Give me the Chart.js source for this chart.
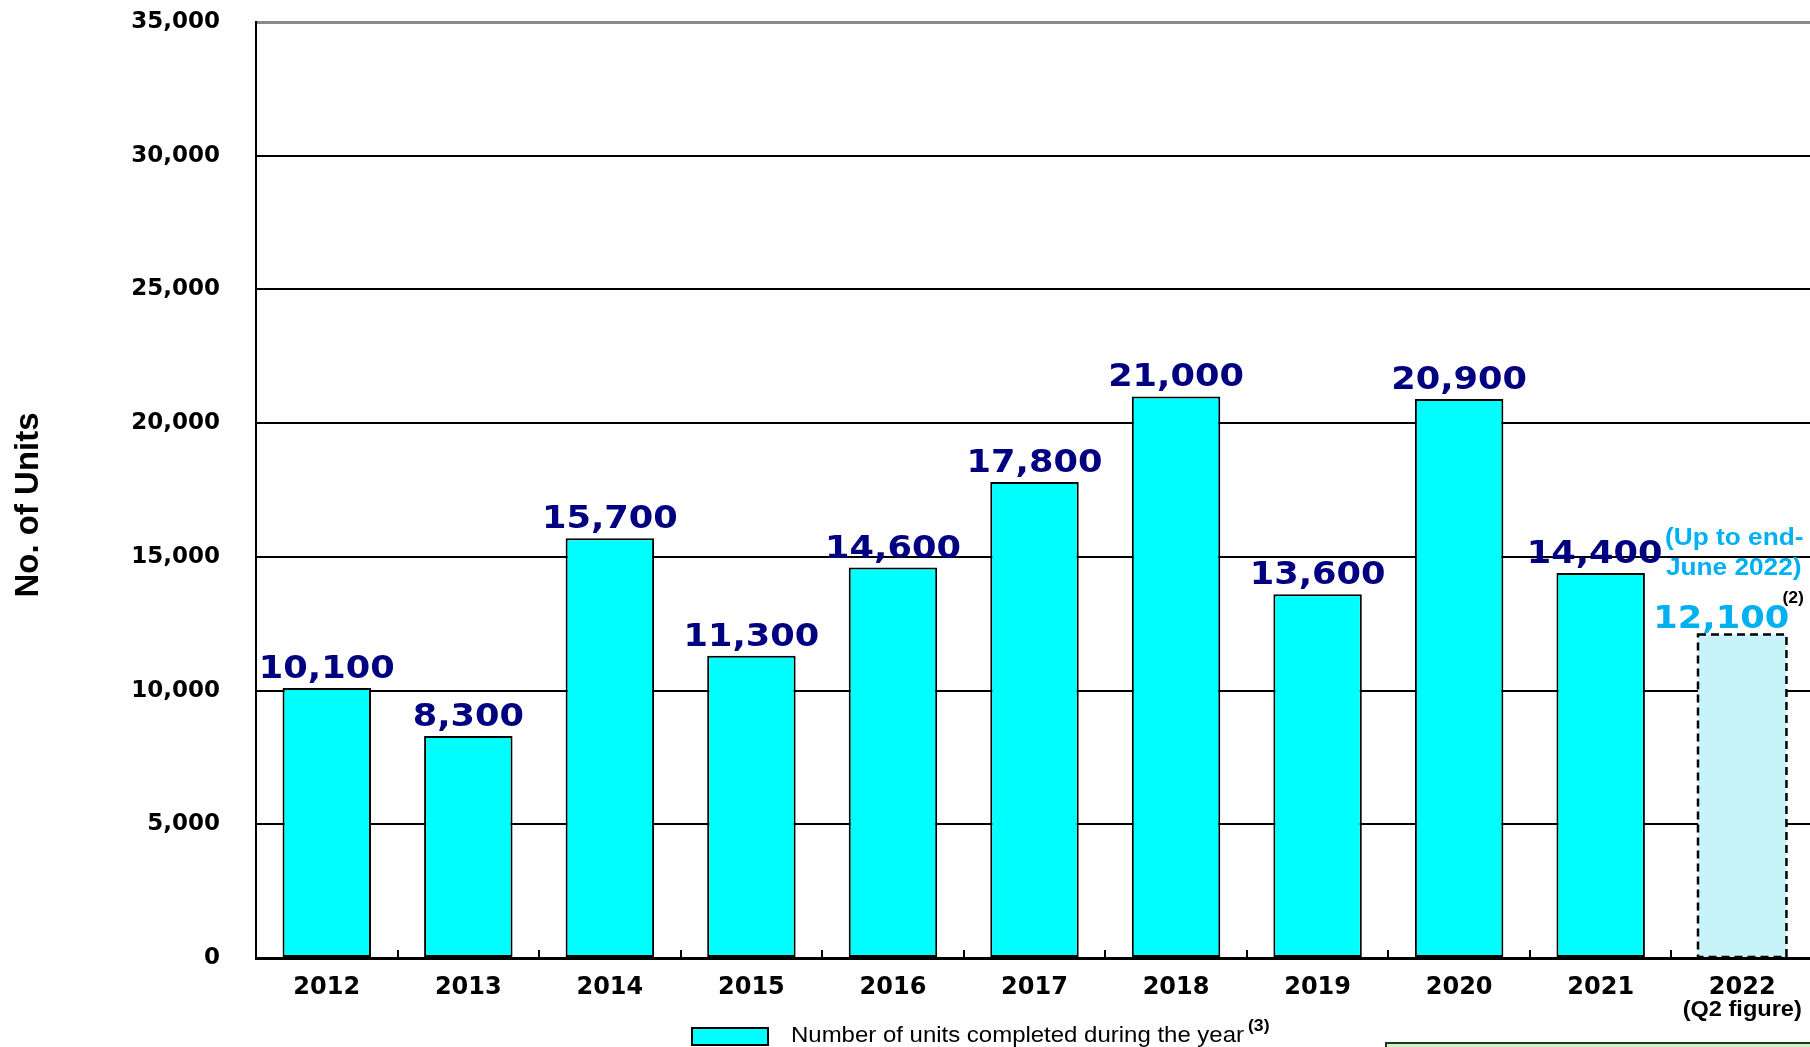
<!DOCTYPE html>
<html>
<head>
<meta charset="utf-8">
<script src="https://cdn.jsdelivr.net/npm/chart.js@4.4.1/dist/chart.umd.min.js"></script>
<style>
  html, body { margin: 0; padding: 0; background: #fff; overflow: hidden; }
  #wrap { width: 1830px; height: 1047px; }
</style>
</head>
<body>
<div id="wrap"><canvas id="unitsChart"></canvas></div>
<script>
// data
const years = ['2012', '2013', '2014', '2015', '2016', '2017', '2018', '2019', '2020', '2021', '2022'];
const units = [10100, 8300, 15700, 11300, 14600, 17800, 21000, 13600, 20900, 14400, 12100];
const yMax = 35000;
const yStep = 5000;
const yTitle = 'No. of Units';
const seriesLabel = 'Number of units completed during the year';
const seriesNote = '(3)';
const partialNote = ['(Up to end-', 'June 2022)'];
const partialSup = '(2)';
const partialSubLabel = '(Q2 figure)';

const CYAN = '#00ffff';
const PALE_CYAN = '#c8f3f8';
const NAVY = '#000080';
const SKY = '#00b0f0';

function stretchText(ctx, text, x, y, sx, align) {
    ctx.save();
    ctx.translate(x, y);
    ctx.scale(sx, 1);
    ctx.textAlign = align;
    ctx.fillText(text, 0, 0);
    ctx.restore();
}

// labels, dashed partial bar, inner ticks, legend
const overlayPlugin = {
    id: 'overlay',
    afterDatasetsDraw(chart) {
        const ctx = chart.ctx;
        const area = chart.chartArea;
        const xs = chart.scales.x;
        const meta = chart.getDatasetMeta(0);
        const last = units.length - 1;

        ctx.save();
        // small upward ticks between categories
        ctx.strokeStyle = '#000';
        ctx.lineWidth = 2;
        const half = (xs.getPixelForValue(1) - xs.getPixelForValue(0)) / 2;
        for (let i = 1; i < years.length; i++) {
            const px = Math.round(xs.getPixelForValue(i) - half);
            ctx.beginPath();
            ctx.moveTo(px, area.bottom);
            ctx.lineTo(px, area.bottom - 8);
            ctx.stroke();
        }

        // dashed outline of the partial year
        const pb = meta.data[last];
        ctx.setLineDash([8, 5]);
        ctx.lineWidth = 2.5;
        ctx.strokeRect(pb.x - pb.width / 2, pb.y, pb.width, pb.base - pb.y);
        ctx.setLineDash([]);

        // value labels
        ctx.textBaseline = 'alphabetic';
        ctx.font = 'bold 32px "DejaVu Sans"';
        meta.data.forEach((bar, i) => {
            const txt = units[i].toLocaleString('en-US');
            if (i === last) {
                ctx.fillStyle = SKY;
                stretchText(ctx, txt, bar.x - 21, bar.y - 6, 1.1, 'center');
            } else {
                ctx.fillStyle = NAVY;
                const dx = i === last - 1 ? -6 : 0;
                stretchText(ctx, txt, bar.x + dx, bar.y - 10, 1.1, 'center');
            }
        });

        // note for the partial year
        const right = pb.x + pb.width / 2 + 17;
        ctx.fillStyle = SKY;
        ctx.font = 'bold 23px "Liberation Sans"';
        stretchText(ctx, partialNote[0], right, pb.y - 89, 1.14, 'right');
        stretchText(ctx, partialNote[1], right - 2, pb.y - 59, 1.14, 'right');
        ctx.fillStyle = '#000';
        ctx.font = 'bold 16px "Liberation Sans"';
        stretchText(ctx, partialSup, pb.x + pb.width / 2 - 4, pb.y - 31, 1.1, 'left');

        // second line under the last category
        ctx.font = 'bold 22px "Liberation Sans"';
        ctx.textBaseline = 'middle';
        stretchText(ctx, partialSubLabel, xs.getPixelForValue(last), xs.top + 52, 1.07, 'center');

        // y axis title
        ctx.save();
        ctx.translate(29, (area.top + area.bottom) / 2 + 15);
        ctx.rotate(-Math.PI / 2);
        ctx.font = 'bold 33px "Liberation Sans"';
        ctx.textAlign = 'center';
        ctx.fillText(yTitle, 0, 0);
        ctx.restore();

        // legend
        ctx.textBaseline = 'alphabetic';
        ctx.fillStyle = CYAN;
        ctx.fillRect(692, 1028, 76, 17);
        ctx.lineWidth = 2;
        ctx.strokeStyle = '#000';
        ctx.strokeRect(692, 1028, 76, 17);
        ctx.fillStyle = '#000';
        ctx.font = '22px "Liberation Sans"';
        const w = ctx.measureText(seriesLabel).width;
        const sx = 453 / w;
        stretchText(ctx, seriesLabel, 791, 1042, sx, 'left');
        ctx.font = 'bold 16px "Liberation Sans"';
        stretchText(ctx, seriesNote, 791 + 453 + 4, 1031, 1.1, 'left');

        // edge of the neighbouring note box
        ctx.fillStyle = '#ccf5c4';
        ctx.fillRect(1386, 1043, 460, 20);
        ctx.strokeStyle = '#1e3a1e';
        ctx.strokeRect(1386, 1043, 460, 20);
        ctx.restore();
    }
};

new Chart(document.getElementById('unitsChart'), {
    type: 'bar',
    data: {
        labels: years,
        datasets: [{
            label: seriesLabel,
            data: units,
            backgroundColor: units.map((v, i) => i === units.length - 1 ? PALE_CYAN : CYAN),
            borderColor: '#000',
            borderWidth: units.map((v, i) => i === units.length - 1 ? 0 : 2),
            borderSkipped: false,
            barPercentage: 0.625,
            categoryPercentage: 1
        }]
    },
    options: {
        responsive: true,
        maintainAspectRatio: false,
        animation: false,
        layout: { padding: { top: 22, right: 17, bottom: 0, left: 0 } },
        plugins: {
            legend: { display: false },
            tooltip: { enabled: false }
        },
        scales: {
            x: {
                grid: { display: false },
                border: { display: true, color: '#000', width: 3 },
                ticks: {
                    color: '#000',
                    padding: 10,
                    maxRotation: 0,
                    autoSkip: false,
                    font: { family: 'DejaVu Sans', size: 24, weight: 'bold', lineHeight: 1 }
                },
                afterFit(scale) { scale.height = 89; }
            },
            y: {
                min: 0,
                max: yMax,
                ticks: {
                    stepSize: yStep,
                    color: '#000',
                    padding: 36,
                    font: { family: 'DejaVu Sans', size: 23, weight: 'bold' }
                },
                grid: {
                    drawTicks: false,
                    color: (c) => c.tick && c.tick.value === yMax ? '#8a8a8a' : '#000',
                    lineWidth: (c) => c.tick && c.tick.value === yMax ? 3 : 2
                },
                border: { display: true, color: '#000', width: 2 },
                afterFit(scale) {
                    scale.width = 256;
                    scale.paddingTop = 0;
                    scale.paddingBottom = 0;
                }
            }
        }
    },
    plugins: [overlayPlugin]
});
</script>
</body>
</html>
